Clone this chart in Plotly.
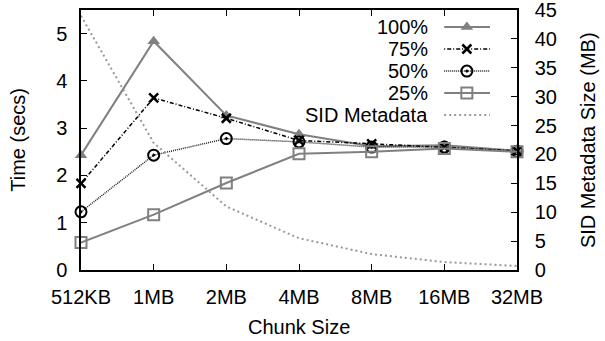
import plotly.graph_objects as go

categories = ["512KB", "1MB", "2MB", "4MB", "8MB", "16MB", "32MB"]
t100 = [2.43, 4.84, 3.27, 2.87, 2.62, 2.64, 2.52]
t75 = [1.83, 3.64, 3.21, 2.74, 2.67, 2.60, 2.52]
t50 = [1.23, 2.43, 2.78, 2.71, 2.60, 2.60, 2.51]
t25 = [0.58, 1.17, 1.84, 2.46, 2.50, 2.57, 2.50]
sid_meta = [44.0, 22.0, 11.0, 5.5, 2.75, 1.38, 0.69]
left_ticks = [0, 1, 2, 3, 4, 5]
right_ticks = [0, 5, 10, 15, 20, 25, 30, 35, 40, 45]

GRAY = "#808080"
FONT = "Liberation Sans, Arial, sans-serif"
FS = 20
xs = list(range(len(categories)))

styles = [
    ("100%", t100, "y", dict(color=GRAY, width=2), dict(symbol="triangle-up", size=11, color=GRAY)),
    ("75%", t75, "y", dict(color="black", width=1.5, dash="1px,2px,4px,2px"),
     dict(symbol="x-thin-open", size=9, color="black", line=dict(color="black", width=2.5))),
    ("50%", t50, "y", dict(color="#222222", width=1.5, dash="1px,1px"),
     dict(symbol="circle-open-dot", size=11, color="black", line=dict(color="black", width=2))),
    ("25%", t25, "y", dict(color=GRAY, width=2),
     dict(symbol="square-open", size=11, color=GRAY, line=dict(color=GRAY, width=2))),
    ("SID Metadata", sid_meta, "y2", dict(color="#999999", width=2, dash="2px,3px"), None),
]

fig = go.Figure()
for name, vals, yax, line, marker in styles:
    fig.add_trace(go.Scatter(
        x=xs, y=vals, yaxis=yax, name=name,
        mode="lines+markers" if marker else "lines",
        line=line, marker=marker, showlegend=False, cliponaxis=False))

# custom gnuplot-style legend (text right, sample on right)
rows = [0.935, 0.85, 0.765, 0.681, 0.596]
annotations = []
for (name, vals, yax, line, marker), ry in zip(styles, rows):
    fig.add_trace(go.Scatter(
        x=[0.833, 0.938], y=[ry, ry], xaxis="x3", yaxis="y3", mode="lines",
        line=line, showlegend=False, hoverinfo="skip"))
    if marker:
        fig.add_trace(go.Scatter(
            x=[0.885], y=[ry], xaxis="x3", yaxis="y3", mode="markers",
            marker=marker, showlegend=False, hoverinfo="skip"))
    annotations.append(dict(
        x=0.8, y=ry, xref="x3", yref="y3", text=name, showarrow=False,
        xanchor="right", yanchor="middle", font=dict(size=FS, color="black", family=FONT)))

# axis titles
annotations += [
    dict(x=0.5, y=-0.219, xref="paper", yref="paper", text="Chunk Size", showarrow=False,
         xanchor="center", yanchor="middle", font=dict(size=FS, color="black", family=FONT)),
    dict(x=-0.145, y=0.5, xref="paper", yref="paper", text="Time (secs)", showarrow=False,
         textangle=-90, xanchor="center", yanchor="middle", borderpad=0,
         font=dict(size=FS, color="black", family=FONT)),
    dict(x=1.163, y=0.5, xref="paper", yref="paper", text="SID Metadata Size (MB)",
         showarrow=False, textangle=-90, xanchor="center", yanchor="middle", borderpad=0,
         font=dict(size=FS, color="black", family=FONT)),
]

axis_common = dict(showgrid=False, zeroline=False, showline=True, linecolor="black",
                   linewidth=1.5, ticks="inside", ticklen=6, tickcolor="black",
                   automargin=False, ticklabeloverflow="allow",
                   tickfont=dict(size=FS, color="black", family=FONT))

fig.update_layout(
    width=605, height=341,
    margin=dict(l=81, r=88, t=10, b=71),
    plot_bgcolor="white", paper_bgcolor="white",
    font=dict(family=FONT, size=FS, color="black"),
    xaxis=dict(**axis_common, range=[0, 6], tickmode="array", tickvals=xs,
               ticktext=categories, mirror="ticks", ticklabelstandoff=8),
    yaxis=dict(**axis_common, range=[0, 5.5], tickvals=left_ticks, ticklabelstandoff=8),
    yaxis2=dict(**axis_common, range=[0, 45], tickvals=right_ticks, overlaying="y",
                side="right", ticklabelstandoff=12),
    xaxis3=dict(domain=[0, 1], range=[0, 1], visible=False, overlaying="x"),
    yaxis3=dict(domain=[0, 1], range=[0, 1], visible=False, overlaying="y", anchor="x3"),
    annotations=annotations,
)

# remove the default 8px page margin so the figure fills the 605x341 window
fig.write_html("out.html", config={"displayModeBar": False},
               post_script="document.body.style.margin='0';document.body.style.overflow='hidden';")
